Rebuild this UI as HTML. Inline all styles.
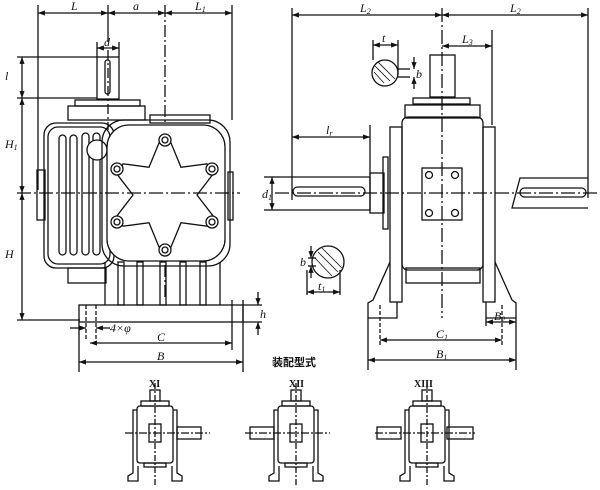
<!DOCTYPE html>
<html><head><meta charset="utf-8"><style>
html,body{margin:0;padding:0;background:#fff;}
svg{display:block;}
text{font-family:"Liberation Serif",serif;font-style:italic;font-size:12px;fill:#111;}
.c{font-family:"Liberation Sans","Noto Sans CJK SC",sans-serif;font-style:normal;font-weight:bold;font-size:11px;}
.r{font-style:normal;font-weight:bold;font-size:10px;}
</style></head><body>
<svg width="600" height="490" viewBox="0 0 600 490" xmlns="http://www.w3.org/2000/svg">
<defs>
<marker id="a" viewBox="0 0 8 6" refX="8" refY="3" markerWidth="6" markerHeight="4" orient="auto-start-reverse"><path d="M0,0L8,3L0,6z" fill="#111"/></marker>
</defs>
<g stroke="#111" fill="none" stroke-width="1.3">
<line x1="38" y1="5" x2="38" y2="190"/>
<line x1="108" y1="5" x2="108" y2="42"/>
<line x1="165" y1="5" x2="165" y2="300" stroke-dasharray="12,3,2,3"/>
<line x1="232" y1="5" x2="232" y2="120"/>
<line x1="38" y1="13" x2="108" y2="13" marker-start="url(#a)" marker-end="url(#a)"/>
<line x1="108" y1="13" x2="165" y2="13" marker-start="url(#a)" marker-end="url(#a)"/>
<line x1="165" y1="13" x2="232" y2="13" marker-start="url(#a)" marker-end="url(#a)"/>
<line x1="97" y1="42" x2="97" y2="57"/><line x1="119" y1="42" x2="119" y2="57"/>
<line x1="97" y1="48" x2="119" y2="48" marker-start="url(#a)" marker-end="url(#a)"/>
<line x1="17" y1="57" x2="97" y2="57"/>
<line x1="17" y1="98" x2="97" y2="98"/>
<line x1="17" y1="193" x2="240" y2="193" stroke-dasharray="14,3,2,3"/>
<line x1="17" y1="320" x2="80" y2="320"/>
<line x1="22" y1="57" x2="22" y2="98" marker-start="url(#a)" marker-end="url(#a)"/>
<line x1="22" y1="98" x2="22" y2="193" marker-start="url(#a)" marker-end="url(#a)"/>
<line x1="22" y1="193" x2="22" y2="320" marker-start="url(#a)" marker-end="url(#a)"/>
<rect x="97" y="57" width="22" height="42"/>
<rect x="105" y="60" width="5" height="34" rx="2.5"/>
<line x1="108" y1="50" x2="108" y2="130" stroke-dasharray="10,3,2,3"/>
<rect x="75" y="100" width="65" height="6"/>
<rect x="68" y="106" width="77" height="14"/>
<rect x="150" y="115" width="60" height="8"/>
<rect x="44" y="123" width="70" height="145" rx="12"/>
<rect x="48" y="127" width="62" height="137" rx="10"/>
<rect x="37" y="170" width="8" height="50"/>
<rect x="68" y="268" width="38" height="15"/>
<rect x="59" y="135" width="7" height="120" rx="3.5"/>
<rect x="70" y="135" width="7" height="120" rx="3.5"/>
<rect x="82" y="133" width="7" height="122" rx="3.5"/>
<rect x="93" y="133" width="7" height="122" rx="3.5"/>
<circle cx="97" cy="150" r="10" fill="#fff"/>
<rect x="102" y="120" width="128" height="146" rx="22"/>
<rect x="107" y="125" width="118" height="136" rx="22" fill="#fff"/>
<rect x="228" y="172" width="5" height="48"/>
<polygon points="159,143 171,143 181,167.3 207,163.8 213,174.2 197,195 213,215.8 207,226.2 181,222.7 171,247 159,247 149,222.7 123,226.2 117,215.8 133,195 117,174.2 123,163.8 149,167.3"/>
<circle cx="165" cy="140" r="6" fill="#fff"/><circle cx="165" cy="140" r="3"/>
<circle cx="165" cy="250" r="6" fill="#fff"/><circle cx="165" cy="250" r="3"/>
<circle cx="212" cy="169" r="6" fill="#fff"/><circle cx="212" cy="169" r="3"/>
<circle cx="212" cy="222" r="6" fill="#fff"/><circle cx="212" cy="222" r="3"/>
<circle cx="117" cy="169" r="6" fill="#fff"/><circle cx="117" cy="169" r="3"/>
<circle cx="117" cy="222" r="6" fill="#fff"/><circle cx="117" cy="222" r="3"/>
<line x1="105" y1="193" x2="230" y2="193" stroke-dasharray="14,3,2,3"/>
<line x1="105" y1="262" x2="105" y2="305"/><line x1="220" y1="262" x2="220" y2="305"/>
<rect x="118" y="262" width="6" height="43"/><rect x="137" y="262" width="6" height="43"/>
<rect x="160" y="262" width="6" height="43"/><rect x="180" y="262" width="6" height="43"/>
<rect x="200" y="262" width="6" height="43"/>
<rect x="79" y="305" width="164" height="17"/>
<line x1="86" y1="305" x2="86" y2="340" stroke-dasharray="4,2"/><line x1="96" y1="305" x2="96" y2="340" stroke-dasharray="4,2"/>
<line x1="243" y1="300" x2="243" y2="372"/><line x1="79" y1="322" x2="79" y2="372"/>
<line x1="232" y1="300" x2="232" y2="350"/>
<line x1="243" y1="305" x2="262" y2="305"/><line x1="243" y1="322" x2="262" y2="322"/>
<line x1="258" y1="292" x2="258" y2="305" marker-end="url(#a)"/><line x1="258" y1="335" x2="258" y2="322" marker-end="url(#a)"/>
<line x1="70" y1="328" x2="86" y2="328" marker-end="url(#a)"/><line x1="110" y1="328" x2="96" y2="328" marker-end="url(#a)"/>
<line x1="90" y1="343" x2="232" y2="343" marker-start="url(#a)" marker-end="url(#a)"/>
<line x1="79" y1="362" x2="243" y2="362" marker-start="url(#a)" marker-end="url(#a)"/>

<line x1="292" y1="8" x2="292" y2="200"/>
<line x1="588" y1="8" x2="588" y2="198"/>
<line x1="442" y1="8" x2="442" y2="318" stroke-dasharray="14,3,2,3"/>
<line x1="292" y1="15" x2="442" y2="15" marker-start="url(#a)" marker-end="url(#a)"/>
<line x1="442" y1="15" x2="588" y2="15" marker-start="url(#a)" marker-end="url(#a)"/>
<line x1="492" y1="30" x2="492" y2="125"/>
<line x1="442" y1="46" x2="492" y2="46" marker-start="url(#a)" marker-end="url(#a)"/>
<rect x="430" y="55" width="25" height="42"/>
<rect x="413" y="98" width="57" height="6"/>
<rect x="405" y="105" width="75" height="13"/>
<rect x="402" y="117" width="81" height="153" rx="6"/>
<rect x="390" y="127" width="12" height="175"/><rect x="483" y="127" width="12" height="175"/>
<rect x="422" y="168" width="40" height="52"/>
<circle cx="429" cy="175" r="3.5"/><circle cx="455" cy="175" r="3.5"/>
<circle cx="429" cy="213" r="3.5"/><circle cx="455" cy="213" r="3.5"/>
<rect x="406" y="268" width="74" height="15"/>
<path d="M390,262 L373,300 L368,303 L368,318 L397,318 L397,302"/>
<path d="M495,262 L512,300 L516,303 L516,318 L486,318 L486,302"/>
<line x1="368" y1="318" x2="368" y2="370"/><line x1="516" y1="318" x2="516" y2="370"/>
<line x1="380" y1="305" x2="380" y2="345" stroke-dasharray="4,2"/><line x1="502" y1="305" x2="502" y2="345" stroke-dasharray="4,2"/>
<line x1="486" y1="318" x2="486" y2="326"/>
<line x1="486" y1="322" x2="516" y2="322" marker-start="url(#a)" marker-end="url(#a)"/>
<line x1="380" y1="340" x2="502" y2="340" marker-start="url(#a)" marker-end="url(#a)"/>
<line x1="368" y1="360" x2="516" y2="360" marker-start="url(#a)" marker-end="url(#a)"/>
<path d="M280,177 L370,177 L370,210 L280,210"/>
<rect x="293" y="187" width="72" height="9" rx="4.5"/>
<rect x="370" y="173" width="14" height="40"/>
<rect x="383" y="157" width="5" height="72"/>
<line x1="275" y1="193" x2="600" y2="193" stroke-dasharray="14,3,2,3"/>
<line x1="292" y1="137" x2="370" y2="137" marker-start="url(#a)" marker-end="url(#a)"/>
<line x1="370" y1="125" x2="370" y2="175"/>
<line x1="264" y1="177" x2="280" y2="177"/><line x1="264" y1="210" x2="280" y2="210"/>
<line x1="272" y1="177" x2="272" y2="210" marker-start="url(#a)" marker-end="url(#a)"/>
<path d="M588,178 L520,178 L512,208 L588,208"/>
<rect x="520" y="188" width="66" height="9" rx="4.5"/>
<circle cx="385" cy="73" r="13"/>
<path d="M375,66 L390,81 M378,62 L395,79 M374,72 L384,83" stroke-width=".8"/>
<line x1="373" y1="40" x2="373" y2="60"/><line x1="398" y1="40" x2="398" y2="75"/>
<line x1="373" y1="45" x2="398" y2="45" marker-start="url(#a)" marker-end="url(#a)"/>
<line x1="398" y1="69" x2="410" y2="69"/><line x1="398" y1="77" x2="410" y2="77"/>
<line x1="414" y1="57" x2="414" y2="69" marker-end="url(#a)"/><line x1="414" y1="89" x2="414" y2="77" marker-end="url(#a)"/>
<circle cx="328" cy="262" r="16"/>
<path d="M318,252 L338,272 M322,248 L342,268 M315,258 L332,276" stroke-width=".8"/>
<line x1="308" y1="258" x2="316" y2="258"/><line x1="308" y1="266" x2="316" y2="266"/>
<line x1="311" y1="246" x2="311" y2="258" marker-end="url(#a)"/><line x1="311" y1="278" x2="311" y2="266" marker-end="url(#a)"/>
<line x1="307" y1="270" x2="307" y2="295"/><line x1="340" y1="270" x2="340" y2="295"/>
<line x1="307" y1="292" x2="340" y2="292" marker-start="url(#a)" marker-end="url(#a)"/>

<g id="sv">
<rect x="150" y="390" width="10" height="11"/>
<rect x="141" y="401" width="28" height="5"/>
<rect x="137" y="406" width="36" height="57" rx="3"/>
<path d="M137,410 L133,410 L133,473 L128,476 L128,481 L138,481 L138,466"/>
<path d="M173,410 L177,410 L177,473 L182,476 L182,481 L172,481 L172,466"/>
<rect x="144" y="463" width="22" height="4"/>
<rect x="149" y="424" width="12" height="18"/>
<line x1="155" y1="383" x2="155" y2="485" stroke-dasharray="6,2,2,2"/>
</g>
<line x1="125" y1="433" x2="210" y2="433" stroke-dasharray="8,2,2,2"/>
<rect x="177" y="427" width="24" height="12"/>
<use href="#sv" transform="translate(141,0)"/>
<line x1="245" y1="433" x2="330" y2="433" stroke-dasharray="8,2,2,2"/>
<rect x="250" y="427" width="24" height="12"/>
<use href="#sv" transform="translate(272,0)"/>
<line x1="375" y1="433" x2="475" y2="433" stroke-dasharray="8,2,2,2"/>
<rect x="377" y="427" width="24" height="12"/>
<rect x="447" y="427" width="26" height="12"/>
</g>
<text x="71" y="10">L</text><text x="133" y="10">a</text><text x="195" y="10">L<tspan font-size="8" dy="2">1</tspan></text>
<text x="104" y="46">d</text>
<text x="5" y="80">l</text>
<text x="5" y="148">H<tspan font-size="8" dy="2">1</tspan></text>
<text x="5" y="258">H</text>
<text x="110" y="332">4×φ</text>
<text x="157" y="341">C</text><text x="157" y="360">B</text>
<text x="260" y="318">h</text>
<text x="360" y="12">L<tspan font-size="8" dy="2">2</tspan></text>
<text x="510" y="12">L<tspan font-size="8" dy="2">2</tspan></text>
<text x="462" y="43">L<tspan font-size="8" dy="2">3</tspan></text>
<text x="382" y="42">t</text><text x="416" y="78">b</text>
<text x="326" y="134">l<tspan font-size="8" dy="2">r</tspan></text>
<text x="262" y="198">d<tspan font-size="8" dy="2">1</tspan></text>
<text x="300" y="266">b</text><text x="318" y="290">t<tspan font-size="8" dy="2">1</tspan></text>
<text x="494" y="320">B<tspan font-size="8" dy="2">2</tspan></text>
<text x="436" y="338">C<tspan font-size="8" dy="2">1</tspan></text>
<text x="436" y="358">B<tspan font-size="8" dy="2">1</tspan></text>
<text class="c" x="272" y="366">装配型式</text>
<text class="r" x="149" y="387">XI</text>
<text class="r" x="289" y="387">XII</text>
<text class="r" x="414" y="387">XIII</text>
</svg>
</body></html>
